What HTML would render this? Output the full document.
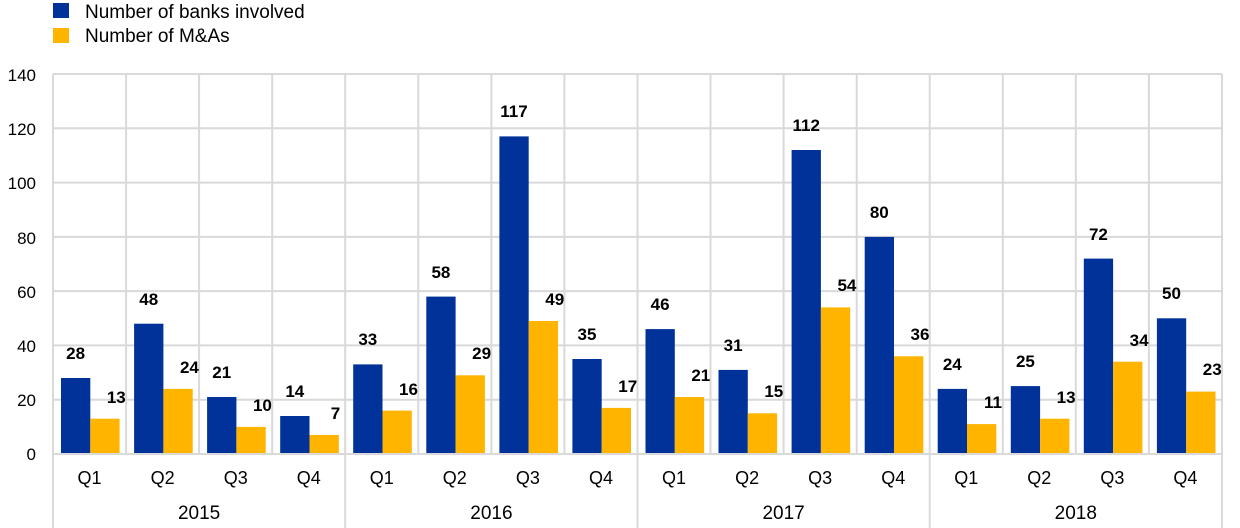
<!DOCTYPE html>
<html><head><meta charset="utf-8"><style>
body{margin:0;background:#fff}
svg{display:block;font-family:"Liberation Sans",Arial,sans-serif}
</style></head><body>
<svg width="1240" height="528" viewBox="0 0 1240 528">
<rect x="53" y="3" width="16" height="15" fill="#003299"/>
<rect x="53" y="28" width="16" height="15" fill="#ffb400"/>
<text x="85" y="18" font-size="19">Number of banks involved</text>
<text x="85" y="42" font-size="19">Number of M&amp;As</text>
<g stroke="#d9d9d9" stroke-width="2">
<line x1="53" x2="1222" y1="74" y2="74"/><line x1="53" x2="1222" y1="128.3" y2="128.3"/>
<line x1="53" x2="1222" y1="182.6" y2="182.6"/><line x1="53" x2="1222" y1="236.9" y2="236.9"/>
<line x1="53" x2="1222" y1="291.1" y2="291.1"/><line x1="53" x2="1222" y1="345.4" y2="345.4"/>
<line x1="53" x2="1222" y1="399.7" y2="399.7"/>
<line x1="126.1" x2="126.1" y1="74" y2="454"/><line x1="199.1" x2="199.1" y1="74" y2="454"/>
<line x1="272.2" x2="272.2" y1="74" y2="454"/><line x1="418.3" x2="418.3" y1="74" y2="454"/>
<line x1="491.4" x2="491.4" y1="74" y2="454"/><line x1="564.4" x2="564.4" y1="74" y2="454"/>
<line x1="710.5" x2="710.5" y1="74" y2="454"/><line x1="783.6" x2="783.6" y1="74" y2="454"/>
<line x1="856.7" x2="856.7" y1="74" y2="454"/><line x1="1002.8" x2="1002.8" y1="74" y2="454"/>
<line x1="1075.8" x2="1075.8" y1="74" y2="454"/><line x1="1148.9" x2="1148.9" y1="74" y2="454"/>
<line x1="53" x2="53" y1="74" y2="528"/><line x1="345.2" x2="345.2" y1="74" y2="528"/>
<line x1="637.5" x2="637.5" y1="74" y2="528"/><line x1="929.7" x2="929.7" y1="74" y2="528"/>
<line x1="1222" x2="1222" y1="74" y2="528"/>
</g>
<g fill="#003299">
<rect x="61" y="378" width="29.3" height="76"/>
<rect x="134.1" y="323.7" width="29.3" height="130.3"/>
<rect x="207.1" y="397" width="29.3" height="57"/>
<rect x="280.2" y="416" width="29.3" height="38"/>
<rect x="353.2" y="364.4" width="29.3" height="89.6"/>
<rect x="426.3" y="296.6" width="29.3" height="157.4"/>
<rect x="499.4" y="136.4" width="29.3" height="317.6"/>
<rect x="572.4" y="359" width="29.3" height="95"/>
<rect x="645.5" y="329.1" width="29.3" height="124.9"/>
<rect x="718.5" y="369.9" width="29.3" height="84.1"/>
<rect x="791.6" y="150" width="29.3" height="304"/>
<rect x="864.7" y="236.9" width="29.3" height="217.1"/>
<rect x="937.7" y="388.9" width="29.3" height="65.1"/>
<rect x="1010.8" y="386.1" width="29.3" height="67.9"/>
<rect x="1083.8" y="258.6" width="29.3" height="195.4"/>
<rect x="1156.9" y="318.3" width="29.3" height="135.7"/>
</g>
<g fill="#ffb400">
<rect x="90.3" y="418.7" width="29.3" height="35.3"/>
<rect x="163.4" y="388.9" width="29.3" height="65.1"/>
<rect x="236.4" y="426.9" width="29.3" height="27.1"/>
<rect x="309.5" y="435" width="29.3" height="19"/>
<rect x="382.5" y="410.6" width="29.3" height="43.4"/>
<rect x="455.6" y="375.3" width="29.3" height="78.7"/>
<rect x="528.7" y="321" width="29.3" height="133"/>
<rect x="601.7" y="407.9" width="29.3" height="46.1"/>
<rect x="674.8" y="397" width="29.3" height="57"/>
<rect x="747.8" y="413.3" width="29.3" height="40.7"/>
<rect x="820.9" y="307.4" width="29.3" height="146.6"/>
<rect x="894" y="356.3" width="29.3" height="97.7"/>
<rect x="967" y="424.1" width="29.3" height="29.9"/>
<rect x="1040.1" y="418.7" width="29.3" height="35.3"/>
<rect x="1113.1" y="361.7" width="29.3" height="92.3"/>
<rect x="1186.2" y="391.6" width="29.3" height="62.4"/>
</g>
<line x1="53" x2="1222" y1="454" y2="454" stroke="#d9d9d9" stroke-width="2"/>
<g font-size="17" text-anchor="end">
<text x="36" y="81">140</text><text x="36" y="135">120</text><text x="36" y="189">100</text>
<text x="36" y="244">80</text><text x="36" y="298">60</text><text x="36" y="352">40</text>
<text x="36" y="406">20</text><text x="36" y="460">0</text>
</g>
<g font-size="17" font-weight="bold" text-anchor="middle">
<text x="75.6" y="359">28</text><text x="148.7" y="305">48</text><text x="221.7" y="378">21</text><text x="294.8" y="397">14</text>
<text x="367.8" y="345">33</text><text x="440.9" y="278">58</text><text x="514" y="117">117</text><text x="587" y="340">35</text>
<text x="660.1" y="310">46</text><text x="733.1" y="351">31</text><text x="806.2" y="131">112</text><text x="879.3" y="218">80</text>
<text x="952.3" y="370">24</text><text x="1025.4" y="367">25</text><text x="1098.4" y="240">72</text><text x="1171.5" y="299">50</text>
<text x="116.3" y="403">13</text><text x="189.4" y="373">24</text><text x="262.4" y="411">10</text><text x="335.5" y="419">7</text>
<text x="408.5" y="395">16</text><text x="481.6" y="359">29</text><text x="554.7" y="305">49</text><text x="627.7" y="392">17</text>
<text x="700.8" y="381">21</text><text x="773.8" y="397">15</text><text x="846.9" y="291">54</text><text x="920" y="340">36</text>
<text x="993" y="408">11</text><text x="1066.1" y="403">13</text><text x="1139.1" y="346">34</text><text x="1212.2" y="375">23</text>
</g>
<g font-size="18" text-anchor="middle">
<text x="89.5" y="484">Q1</text><text x="162.6" y="484">Q2</text><text x="235.7" y="484">Q3</text><text x="308.7" y="484">Q4</text>
<text x="381.8" y="484">Q1</text><text x="454.8" y="484">Q2</text><text x="527.9" y="484">Q3</text><text x="601" y="484">Q4</text>
<text x="674" y="484">Q1</text><text x="747.1" y="484">Q2</text><text x="820.1" y="484">Q3</text><text x="893.2" y="484">Q4</text>
<text x="966.3" y="484">Q1</text><text x="1039.3" y="484">Q2</text><text x="1112.4" y="484">Q3</text><text x="1185.4" y="484">Q4</text>
</g>
<g font-size="19" text-anchor="middle">
<text x="199.1" y="519">2015</text><text x="491.4" y="519">2016</text><text x="783.6" y="519">2017</text><text x="1075.8" y="519">2018</text>
</g>
</svg>
</body></html>
